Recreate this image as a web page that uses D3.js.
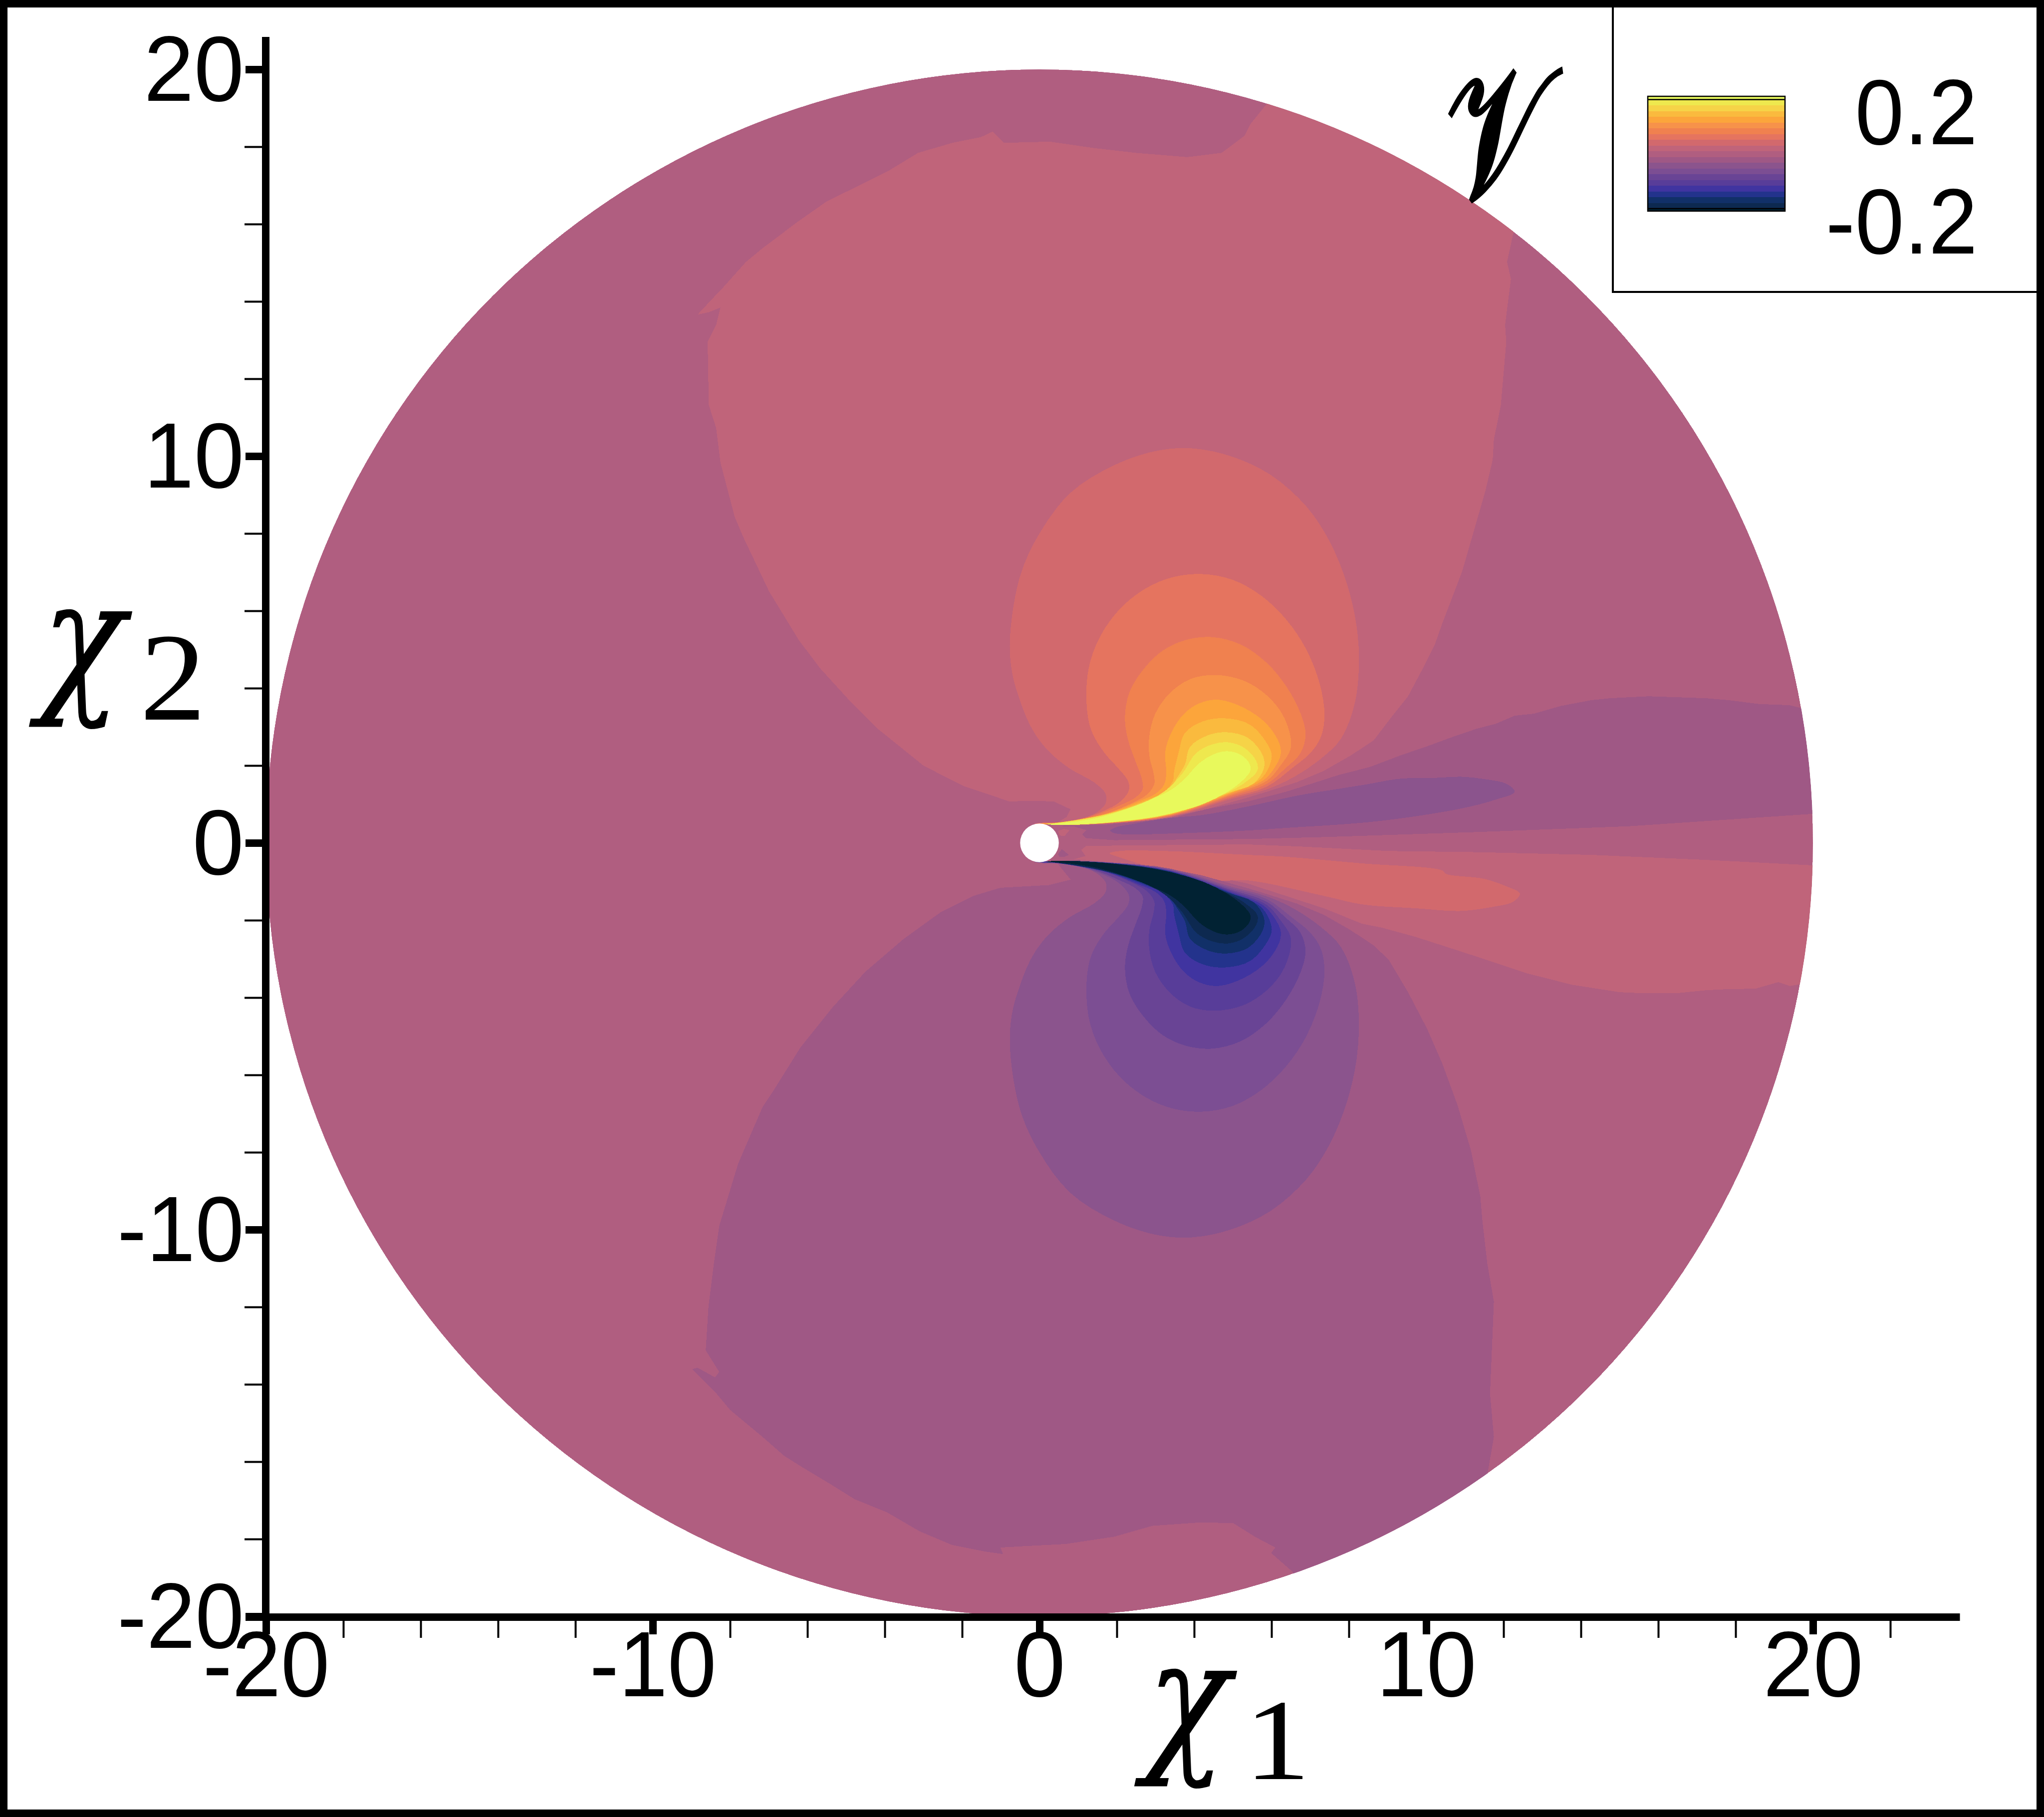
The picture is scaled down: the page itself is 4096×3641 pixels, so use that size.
<!DOCTYPE html>
<html><head><meta charset="utf-8">
<script src="https://cdnjs.cloudflare.com/ajax/libs/d3/7.8.5/d3.min.js"></script>
<style>html,body{margin:0;padding:0;background:#fff}svg{display:block}</style></head>
<body><svg id="c" width="4096" height="3641"></svg>
<script>
// colour bands, top of the legend to bottom
const bandColors=["#E8F95C","#EEE84E","#F6D347","#FABA3E","#FCA53B","#F7924A","#F0814F","#E5745F","#D2696D","#C0647A","#B05E80","#9F5885","#8B548D","#7C4E93","#694495","#583D99","#4034A0","#23338C","#113068","#0D2950","#012233"];
const levelsMax=0.2, levelsMin=-0.2;
const xMajor=[-20,-10,0,10,20];
const xMinor=[-18,-16,-14,-12,-8,-6,-4,-2,2,4,6,8,12,14,16,18,22];
const yMajor=[-20,-10,0,10,20];
const yMinor=[-18,-16,-14,-12,-8,-6,-4,-2,2,4,6,8,12,14,16,18];
const legendTicks=[0.2,-0.2];

// contours, in (chi1, chi2)
const posOuter=[[5.87,19.10],[5.45,18.58],[5.30,18.28],[4.71,17.84],[3.82,17.73],[2.49,17.84],[1.45,17.96],[.27,18.13],[-.92,18.10],[-1.21,18.39],[-1.51,18.25],[-2.25,18.10],[-3.14,17.84],[-3.88,17.39],[-4.62,17.02],[-5.51,16.58],[-6.25,16.06],[-7.14,15.39],[-7.59,15.02],[-8.18,14.36],[-8.40,14.13],[-8.84,13.66],[-8.55,13.72],[-8.25,13.84],[-8.36,13.39],[-8.58,12.95],[-8.55,11.32],[-8.36,10.73],[-8.25,9.84],[-7.88,8.43],[-7.66,7.91],[-6.99,6.50],[-6.22,5.24],[-5.66,4.50],[-4.92,3.69],[-4.18,2.95],[-2.99,1.99],[-1.96,1.47],[-1.07,1.17],[-.78,1.07],[-.19,1.09],[.37,1.07],[.80,.87],[.70,.67],[.47,.53],[.47,.50],[1.5,.50],[3,.60],[4.2,.84],[5.38,1.17],[5.87,1.32],[6.66,1.57],[7.35,1.86],[8.05,2.26],[8.64,2.65],[9.13,3.29],[9.53,3.79],[9.87,4.43],[10.22,5.12],[10.41,5.66],[10.93,7.02],[11.23,8.06],[11.53,9.10],[11.72,9.91],[11.75,10.43],[11.93,11.32],[12.07,12.95],[12.04,13.39],[12.19,14.58],[12.09,15.02],[12.27,15.84],[13,17],[8,20]];
const negOuter=[[.47,-.50],[.47,-.53],[.60,-.70],[.81,-.95],[.25,-1.09],[-1.01,-1.16],[-1.71,-1.37],[-2.55,-1.79],[-3.52,-2.49],[-4.50,-3.33],[-5.34,-4.24],[-6.18,-5.29],[-6.88,-6.41],[-7.16,-6.83],[-7.79,-8.29],[-8.28,-9.90],[-8.42,-10.88],[-8.56,-12.00],[-8.63,-13.12],[-8.28,-13.68],[-8.39,-13.82],[-8.84,-13.57],[-8.98,-13.61],[-8.70,-13.89],[-8.35,-14.24],[-8.00,-14.66],[-7.58,-15.01],[-7.16,-15.36],[-6.60,-15.85],[-6.04,-16.20],[-5.34,-16.62],[-4.78,-16.97],[-3.94,-17.31],[-3.10,-17.80],[-2.27,-18.15],[-1.43,-18.32],[-.94,-18.39],[-1.01,-18.22],[-.31,-18.18],[.67,-18.13],[1.93,-17.94],[2.91,-17.66],[4.17,-17.57],[5.01,-17.59],[5.57,-17.94],[6.10,-18.22],[5.99,-18.36],[6.55,-18.85],[6.9,-20],[12,-18],[11.58,-16.34],[11.75,-15.36],[11.65,-14.24],[11.75,-11.86],[11.58,-10.88],[11.45,-9.74],[11.40,-9.15],[11.16,-7.96],[10.81,-6.78],[10.41,-5.69],[10.02,-4.80],[9.53,-3.86],[9.03,-3.02],[8.64,-2.65],[8.05,-2.26],[7.35,-1.86],[6.66,-1.57],[5.87,-1.32],[5.38,-1.17],[4.2,-.84],[3,-.60],[1.5,-.50]];

const lobe2=[[-.15,.49],[.1,.525],[.52,.53],[1.18,.65],[1.51,.81],[1.71,1.02],[1.71,1.27],[1.42,1.56],[.77,1.93],[.19,2.42],[-.22,3.00],[-.55,3.82],[-.72,4.48],[-.76,5.34],[-.5,6.9],[.0,8.0],[.8,9.05],[1.9,9.75],[3.0,10.13],[3.95,10.2],[5.0,9.98],[6.0,9.5],[6.9,8.7],[7.5,7.8],[7.95,6.7],[8.2,5.6],[8.26,4.6],[8.15,3.6],[7.8,2.7],[7.27,2.17],[6.61,1.72],[5.87,1.38],[4.88,1.11],[3.40,.67],[1.75,.50],[.5,.47]];
const lobe3=[[-.1,.49],[.1,.52],[.44,.525],[1.09,.63],[1.67,.83],[2.08,1.06],[2.31,1.35],[2.29,1.60],[2.00,1.97],[1.67,2.34],[1.34,2.91],[1.22,3.57],[1.27,4.5],[1.55,5.3],[2.08,6.05],[2.75,6.58],[3.45,6.87],[4.2,6.95],[5.0,6.8],[5.75,6.38],[6.4,5.75],[6.9,5.0],[7.25,4.1],[7.37,3.3],[7.28,2.75],[7.02,2.34],[6.53,1.93],[5.87,1.45],[4.88,1.15],[3.40,.69],[1.75,.505],[.5,.47]];
const lobe4=[[-.05,.49],[.1,.515],[.40,.52],[1.34,.68],[2.08,.97],[2.49,1.18],[2.67,1.39],[2.64,1.68],[2.49,2.09],[2.29,2.67],[2.21,3.24],[2.33,3.9],[2.7,4.5],[3.2,4.98],[3.8,5.25],[4.47,5.32],[5.2,5.13],[5.85,4.68],[6.38,4.05],[6.75,3.35],[6.88,2.8],[6.75,2.32],[6.36,1.93],[5.87,1.52],[4.88,1.19],[3.40,.71],[1.75,.51],[.5,.47]];
const lobe5=[[.05,.495],[.40,.515],[1.59,.72],[2.33,1.0],[2.78,1.25],[2.97,1.52],[2.95,1.80],[2.84,2.26],[2.84,2.75],[2.99,3.33],[3.36,3.86],[3.89,4.23],[4.55,4.34],[5.29,4.19],[5.87,3.82],[6.28,3.33],[6.49,2.75],[6.49,2.42],[6.24,2.01],[5.87,1.60],[4.88,1.22],[3.40,.72],[1.75,.51],[.5,.47]];
const lobe6=[[.1,.495],[.40,.515],[1.75,.76],[2.58,1.08],[3.0,1.27],[3.22,1.5],[3.28,1.80],[3.25,2.34],[3.40,2.83],[3.73,3.33],[4.14,3.61],[4.63,3.70],[5.29,3.49],[5.87,3.08],[6.20,2.58],[6.24,2.30],[6.12,2.01],[5.79,1.62],[4.88,1.25],[3.40,.73],[1.75,.515],[.5,.47]];
const lobe7=[[.15,.495],[.40,.51],[1.75,.75],[2.70,1.08],[3.20,1.30],[3.45,1.6],[3.48,1.84],[3.60,2.34],[3.76,2.84],[4.22,3.14],[4.81,3.22],[5.47,3.04],[5.98,2.38],[5.99,2.12],[5.73,1.66],[4.88,1.27],[3.40,.74],[1.75,.515],[.5,.465]];
const lobe8=[[.18,.495],[.40,.51],[1.7,.73],[2.80,1.09],[3.30,1.35],[3.60,1.75],[3.77,2.05],[3.89,2.48],[4.35,2.78],[4.84,2.86],[5.40,2.71],[5.78,2.25],[5.80,1.92],[5.53,1.53],[4.88,1.29],[3.40,.75],[1.75,.52],[.5,.465]];
const lobe9=[[.2,.49],[.40,.51],[1.59,.70],[2.58,1.0],[3.23,1.33],[3.69,1.79],[4.05,2.32],[4.48,2.55],[4.88,2.60],[5.29,2.46],[5.60,2.13],[5.64,1.88],[5.37,1.60],[4.88,1.31],[3.40,.76],[1.75,.52],[.5,.46]];
const lobe10=[[.22,.485],[.45,.505],[.93,.55],[1.59,.67],[2.24,.87],[2.90,1.13],[3.43,1.39],[3.76,1.66],[4.12,2.05],[4.48,2.28],[4.84,2.37],[5.20,2.28],[5.43,2.05],[5.45,1.86],[5.27,1.63],[4.88,1.33],[4.22,1.00],[3.56,.80],[2.90,.66],[1.91,.54],[.93,.48],[.45,.46]];
const lobes=[lobe2,lobe3,lobe4,lobe5,lobe6,lobe7,lobe8,lobe9,lobe10];

// wake on the right of the cylinder
const wakeNeg1=[[1.10,.22],[1.21,.33],[.91,.42],[.39,.44],[1.75,.47],[3.4,.63],[4.2,.85],[5.38,1.07],[6.37,1.32],[7.16,1.57],[7.75,1.76],[8.54,1.96],[9.33,2.26],[10.03,2.50],[10.71,2.75],[11.30,2.95],[11.80,3.08],[12.29,3.29],[12.78,3.34],[13.48,3.54],[14.27,3.69],[14.76,3.74],[15.75,3.79],[17.23,3.74],[17.82,3.69],[18.61,3.59],[19.40,3.56],[19.75,3.47],[21,3.4],[21,.75],[19.99,.75],[15.25,.43],[11.3,.28],[7.35,.15],[5.38,.10],[1.94,.07],[1.21,.12]];
const wakeNeg2=[[12.29,1.32],[12.09,1.52],[11.50,1.65],[10.91,1.71],[10.22,1.68],[9.33,1.66],[8.44,1.51],[7.75,1.40],[6.66,1.22],[5.38,.94],[4.2,.72],[3.23,.63],[2.37,.48],[2.03,.42],[1.83,.32],[1.94,.25],[2.37,.22],[3.66,.25],[5.38,.32],[6.27,.38],[8.74,.56],[10.91,.89],[11.80,1.12]];
const wakePos1=[[1.08,-.18],[1.21,-.08],[1.94,-.07],[5.38,-.04],[6.66,-.09],[9.02,-.21],[11.30,-.24],[14.27,-.31],[17.23,-.44],[19.99,-.58],[21,-.6],[21,-3.65],[19.69,-3.65],[19.40,-3.70],[19.10,-3.60],[18.51,-3.77],[17.82,-3.78],[17.23,-3.81],[16.44,-3.89],[15.65,-3.89],[15.0,-3.86],[13.78,-3.67],[12.59,-3.37],[11.70,-3.07],[10.81,-2.78],[9.72,-2.43],[8.84,-2.19],[8.34,-2.09],[7.35,-1.69],[6.37,-1.37],[5.38,-1.05],[3.4,-.65],[1.5,-.47],[.9,-.42],[1.19,-.34]];
const wakePos2=[[12.42,-1.30],[12.09,-1.13],[11.50,-.93],[10.51,-.80],[10.41,-.71],[8.34,-.53],[6.37,-.36],[5.38,-.31],[3.23,-.21],[2.07,-.21],[1.81,-.27],[2.03,-.36],[3.23,-.72],[4.5,-.98],[5.38,-.97],[7.35,-1.37],[8.34,-1.59],[9.72,-1.69],[10.91,-1.76],[11.80,-1.64],[12.19,-1.55],[12.39,-1.40]];
const spotPos=[[.48,.31],[.63,.36],[.78,.33],[.65,.18],[.52,.19]];
const spotNeg=[[.48,-.29],[.58,-.16],[.76,-.31],[.65,-.36],[.52,-.36]];

const domainRadius=20, cylinderRadius=0.5;

const svg=d3.select("#c");
const x=d3.scaleLinear([-20,20],[533,3633]);
const y=d3.scaleLinear([-20,20],[3239,139]);
const jagged=d3.line(d=>x(d[0]),d=>y(d[1])).curve(d3.curveLinearClosed);
const smooth=d3.line(d=>x(d[0]),d=>y(d[1])).curve(d3.curveCatmullRomClosed.alpha(0.5));
const band=i=>bandColors[i];  // 10 = around zero, lower index = higher value

svg.append("clipPath").attr("id","disc").append("circle")
  .attr("cx",x(0)).attr("cy",y(0)).attr("r",x(domainRadius)-x(0));
const field=svg.append("g").attr("clip-path","url(#disc)").attr("shape-rendering","crispEdges");
field.append("circle").attr("cx",x(0)).attr("cy",y(0)).attr("r",x(domainRadius)-x(0)).attr("fill",band(10));
const poly=(pts,c,gen)=>field.append("path").attr("d",gen(pts)).attr("fill",c);
poly(wakeNeg1,band(11),jagged);
poly(wakeNeg2,band(12),smooth);
poly(wakePos1,band(9),jagged);
poly(wakePos2,band(8),smooth);
poly(spotPos,band(9),jagged);
poly(spotNeg,band(11),jagged);
poly(posOuter,band(9),jagged);
poly(negOuter,band(11),jagged);
lobes.forEach((pts,i)=>{
  poly(pts,band(8-i),smooth);
  // the lower half of the picture repeats these outlines with the sign of chi2 reversed
  poly(pts.map(p=>[p[0],-p[1]]),band(12+i),smooth);
});
svg.append("circle").attr("cx",x(0)).attr("cy",y(0)).attr("r",x(cylinderRadius)-x(0)).attr("fill","#fff");

// axes
const sans='"Liberation Sans",Arial,sans-serif';
const axisLeftX=532.5, axisBottomY=3240.5;
const styleAxis=(g,w)=>{g.select(".domain").remove();g.selectAll(".tick line").attr("stroke","#000").attr("stroke-width",w);};
const narrow=sel=>sel.each(function(d){
  if(d===0)return;
  const n=this.getComputedTextLength()*(d<0?0.945:0.97);
  d3.select(this).attr("textLength",n).attr("lengthAdjust","spacingAndGlyphs");
});
const yMaj=svg.append("g").attr("transform",`translate(${axisLeftX},0)`)
  .call(d3.axisLeft(y).tickValues(yMajor).tickSize(40.5).tickPadding(3).tickFormat(String));
styleAxis(yMaj,15);
yMaj.selectAll("text").attr("font-family",sans).attr("font-size",186).attr("fill","#000").attr("dy",62).call(narrow);
const yMin=svg.append("g").attr("transform",`translate(${axisLeftX},0)`)
  .call(d3.axisLeft(y).tickValues(yMinor).tickSize(42.5).tickFormat(""));
styleAxis(yMin,4);
const xMaj=svg.append("g").attr("transform",`translate(0,${axisBottomY})`)
  .call(d3.axisBottom(x).tickValues(xMajor).tickSize(34.5).tickPadding(0).tickFormat(String));
styleAxis(xMaj,15);
xMaj.selectAll("text").attr("font-family",sans).attr("font-size",186).attr("fill","#000").attr("y",158.5).attr("dy",0).call(narrow);
const xMin=svg.append("g").attr("transform",`translate(0,${axisBottomY})`)
  .call(d3.axisBottom(x).tickValues(xMinor).tickSize(41.5).tickFormat(""));
styleAxis(xMin,4);
svg.append("line").attr("x1",axisLeftX).attr("x2",axisLeftX).attr("y1",y(20.84)).attr("y2",axisBottomY).attr("stroke","#000").attr("stroke-width",15);
svg.append("line").attr("x1",492).attr("x2",x(23.8)).attr("y1",axisBottomY).attr("y2",axisBottomY).attr("stroke","#000").attr("stroke-width",15);

// text fitted to an ink box
const ctx=document.createElement("canvas").getContext("2d");
function fit(t,font,style,x0,y0,x1,y1,bold){
  ctx.font=`${style} 200px ${font}`;
  const m=ctx.measureText(t);
  const w=m.actualBoundingBoxLeft+m.actualBoundingBoxRight, h=m.actualBoundingBoxAscent+m.actualBoundingBoxDescent;
  const sx=(x1-x0)/w, sy=(y1-y0)/h;
  svg.append("text").text(t).attr("font-family",font).attr("font-style",style).attr("font-size",200)
    .attr("stroke","#000").attr("stroke-width",bold||0)
    .attr("transform",`translate(${x0+m.actualBoundingBoxLeft*sx},${y0+m.actualBoundingBoxAscent*sy}) scale(${sx},${sy})`);
}
const serif='"Liberation Serif"', math='"DejaVu Math TeX Gyre"';
fit("χ",math,"italic",2272,3343,2480,3585);
fit("1",serif,"normal",2516,3412,2610,3565);
fit("χ",math,"italic",57,1220,266,1462);
fit("2",serif,"normal",291,1276,398,1442);
fit("𝒱",'"DejaVu Serif"',"normal",2905,138,3130,403,5);

// legend
const leg=svg.append("g");
leg.append("rect").attr("x",3232).attr("y",8).attr("width",870).attr("height",577).attr("fill","none").attr("stroke","#000").attr("stroke-width",4);
const lx0=3302,lx1=3577;
const ly=d3.scaleLinear([levelsMin,levelsMax],[418,199.5]);
const thresholds=d3.range(bandColors.length-1).map(i=>levelsMax-i*(levelsMax-levelsMin)/(bandColors.length-2));
bandColors.forEach((c,i)=>{
  const top=i===0?193:ly(thresholds[i-1]);
  const bot=i===bandColors.length-1?423:ly(thresholds[i]);
  leg.append("rect").attr("x",lx0).attr("width",lx1-lx0).attr("y",top).attr("height",bot-top).attr("fill",c).attr("shape-rendering","crispEdges");
});
legendTicks.forEach(v=>leg.append("line").attr("x1",lx0).attr("x2",lx1).attr("y1",ly(v)).attr("y2",ly(v)).attr("stroke","#000").attr("stroke-width",2.5));
leg.append("rect").attr("x",lx0).attr("y",193).attr("width",lx1-lx0).attr("height",230).attr("fill","none").attr("stroke","#000").attr("stroke-width",2.5);
const legendY=[289,508];
legendTicks.forEach((v,i)=>leg.append("text").text(v.toFixed(1)).attr("transform",`translate(3963,${legendY[i]}) scale(0.95,1)`).attr("text-anchor","end").attr("font-family",sans).attr("font-size",186).attr("fill","#000"));

// outer frame
svg.append("rect").attr("x",7.5).attr("y",7.5).attr("width",4081).attr("height",3626).attr("fill","none").attr("stroke","#000").attr("stroke-width",15);
</script></body></html>
